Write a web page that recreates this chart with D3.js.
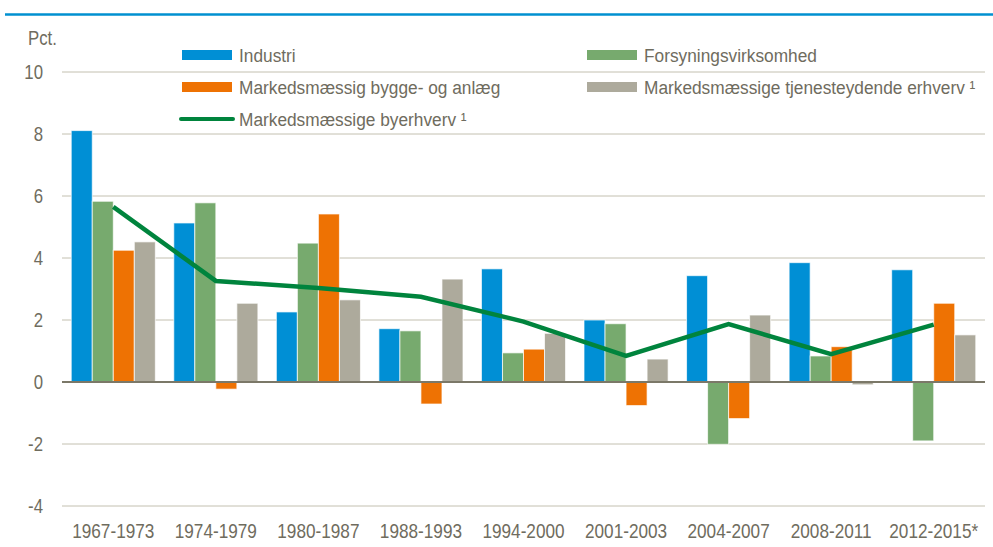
<!DOCTYPE html>
<meta charset="utf-8">
<style>
  body { margin: 0; background: #fff; }
  svg text { font-family: "Liberation Sans", Arial, sans-serif; fill: #6f6c5e; }
</style>
<svg width="993" height="547"></svg>
<script src="https://cdn.jsdelivr.net/npm/d3@7"></script>
<script>

var periods = ["1967-1973", "1974-1979", "1980-1987", "1988-1993", "1994-2000",
               "2001-2003", "2004-2007", "2008-2011", "2012-2015*"];

var series = ["Industri", "Forsyningsvirksomhed", "Markedsmæssig bygge- og anlæg",
              "Markedsmæssige tjenesteydende erhverv \u00b9"];
var lineName = "Markedsmæssige byerhverv \u00b9";

var industri    = [8.11, 5.13, 2.26, 1.72, 3.65, 2.00, 3.43, 3.85, 3.62];
var forsyning   = [5.83, 5.78, 4.48, 1.65, 0.94, 1.88, -2.01, 0.84, -1.90];
var bygge       = [4.25, -0.23, 5.42, -0.71, 1.06, -0.76, -1.18, 1.14, 2.54];
var tjeneste    = [4.52, 2.54, 2.65, 3.32, 1.57, 0.74, 2.16, -0.09, 1.52];
var byerhverv   = [5.65, 3.26, 3.03, 2.75, 1.95, 0.84, 1.87, 0.90, 1.85];

var yTicks = [-4, -2, 0, 2, 4, 6, 8, 10];

var colors = ["#008fd5", "#77aa6e", "#ee7203", "#adaa9c"];
var lineColor = "#00843d";

var values = [industri, forsyning, bygge, tjeneste];

var svg = d3.select("svg");

// no narrow font installed, so squeeze Liberation Sans horizontally
function place(sel, x, y, sx) {
  sel.attr("transform", function(d, i) {
    return "translate(" + (typeof x === "function" ? x(d, i) : x) + "," +
      (typeof y === "function" ? y(d, i) : y) + ") scale(" + sx + ",1)";
  });
  return sel;
}

var x0 = d3.scaleBand()
    .domain(periods)
    .range([62, 985])
    .paddingInner(0.18)
    .paddingOuter(0.09);

var x1 = d3.scaleBand()
    .domain(d3.range(series.length))
    .range([0, x0.bandwidth()]);

var y = d3.scaleLinear()
    .domain([-4, 10])
    .range([506, 72]);

// top rule
svg.append("line")
    .attr("x1", 5).attr("x2", 993)
    .attr("y1", 14.5).attr("y2", 14.5)
    .attr("stroke", "#0090d0")
    .attr("stroke-width", 2.5);

// grid
svg.append("g")
  .selectAll("line")
  .data(yTicks.filter(function(d) { return d !== 0; }))
  .enter().append("line")
    .attr("x1", 62).attr("x2", 985)
    .attr("y1", function(d) { return y(d); })
    .attr("y2", function(d) { return y(d); })
    .attr("stroke", "#c3c0b0")
    .attr("stroke-width", 1);

// y labels
var yl = svg.append("g")
  .selectAll("text")
  .data(yTicks)
  .enter().append("text")
    .attr("text-anchor", "end")
    .style("font-size", "20px")
    .text(function(d) { return d; });
place(yl, 43, function(d) { return y(d) + 7; }, 0.84);

place(svg.append("text")
    .style("font-size", "20px")
    .text("Pct."), 28, 45, 0.84);

// bars
var groups = svg.append("g")
  .selectAll("g")
  .data(periods)
  .enter().append("g")
    .attr("transform", function(d) { return "translate(" + x0(d) + ",0)"; });

groups.selectAll("rect")
    .data(function(d, i) { return values.map(function(v, s) { return { s: s, v: v[i] }; }); })
  .enter().append("rect")
    .attr("x", function(d) { return x1(d.s); })
    .attr("width", x1.bandwidth())
    .attr("y", function(d) { return y(Math.max(0, d.v)); })
    .attr("height", function(d) { return Math.abs(y(d.v) - y(0)); })
    .attr("fill", function(d) { return colors[d.s]; })
    .attr("stroke", "#fff")
    .attr("stroke-opacity", 0.7)
    .attr("stroke-width", 1);

// zero line
svg.append("line")
    .attr("x1", 62).attr("x2", 985)
    .attr("y1", y(0)).attr("y2", y(0))
    .attr("stroke", "#7b7868")
    .attr("stroke-width", 2);

// line
var line = d3.line()
    .x(function(d, i) { return x0(periods[i]) + x0.bandwidth() / 2; })
    .y(function(d) { return y(d); });

svg.append("path")
    .datum(byerhverv)
    .attr("d", line)
    .attr("fill", "none")
    .attr("stroke", lineColor)
    .attr("stroke-width", 4.5);

// x labels
var xl = svg.append("g")
  .selectAll("text")
  .data(periods)
  .enter().append("text")
    .attr("text-anchor", "middle")
    .style("font-size", "20px")
    .text(function(d) { return d; });
place(xl, function(d) { return x0(d) + x0.bandwidth() / 2; }, 538, 0.86);

// legend
var legendPos = [[182, 55], [587, 55], [182, 87], [587, 87]];

var legend = svg.append("g");

series.forEach(function(name, i) {
  legend.append("rect")
      .attr("x", legendPos[i][0]).attr("y", legendPos[i][1] - 5)
      .attr("width", 50).attr("height", 10)
      .attr("fill", colors[i]);
  place(legend.append("text")
      .style("font-size", "19px")
      .text(name), legendPos[i][0] + 57, legendPos[i][1] + 7, 0.91);
});

legend.append("line")
    .attr("x1", 181).attr("x2", 233)
    .attr("y1", 119).attr("y2", 119)
    .attr("stroke", lineColor)
    .attr("stroke-width", 4)
    .attr("stroke-linecap", "round");
place(legend.append("text")
    .style("font-size", "19px")
    .text(lineName), 239, 126, 0.91);

</script>
